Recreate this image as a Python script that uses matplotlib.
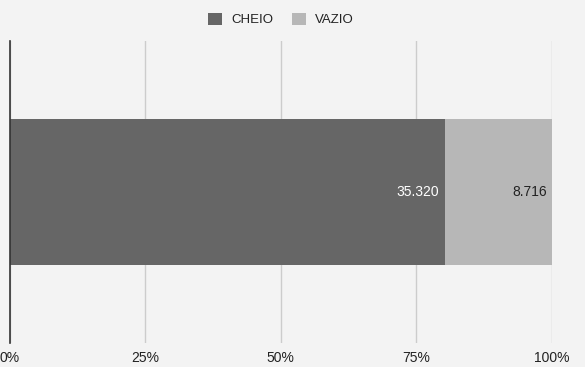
import numpy as np
import matplotlib
matplotlib.use('Agg')
import matplotlib.pyplot as plt

# data
series = ['CHEIO', 'VAZIO']
values = [35320, 8716]
labels = ['35.320', '8.716']
colors = ['#666666', '#b7b7b7']
text_colors = ['#ffffff', '#222222']
ticks = [0, 25, 50, 75, 100]
tick_labels = ['0%', '25%', '50%', '75%', '100%']

bg = '#f3f3f3'
sans = ['Liberation Sans', 'DejaVu Sans']

fig = plt.figure(figsize=(5.85, 3.67), dpi=100, facecolor=bg)
ax = fig.add_axes([9.5 / 585, (367 - 343) / 367, 542.5 / 585, (343 - 41) / 367])
ax.set_facecolor(bg)

total = float(sum(values))
pct = [v / total * 100 for v in values]

left = 0
for name, p, lab, c, tc in zip(series, pct, labels, colors, text_colors):
    ax.barh(0, p, left=left, height=146 / 302, color=c, label=name, zorder=3)
    ax.text(left + p - 0.95, 0, lab, ha='right', va='center', color=tc,
            fontsize=10, family=sans, zorder=4)
    left += p

ax.set_xlim(0, 100)
ax.set_ylim(-0.5, 0.5)
ax.set_yticks([])
ax.set_xticks(ticks)
ax.set_xticklabels(tick_labels, fontsize=10, color='#222222', family=sans)
ax.tick_params(axis='x', length=0, pad=6)
ax.grid(axis='x', color='#cccccc', linewidth=1, zorder=0)
for s in ['top', 'right', 'bottom']:
    ax.spines[s].set_visible(False)
ax.spines['left'].set_color('#333333')
ax.spines['left'].set_linewidth(1.2)
ax.spines['left'].set_zorder(5)

leg = ax.legend(loc='center', bbox_to_anchor=(0.5, 1.071), ncol=2,
                frameon=False, prop={'family': sans, 'size': 9.5},
                handlelength=1.06, handleheight=1.06, columnspacing=1.44,
                handletextpad=0.68, borderaxespad=0)
for t in leg.get_texts():
    t.set_color('#222222')

fig.savefig('out.png', dpi=100, facecolor=bg)
